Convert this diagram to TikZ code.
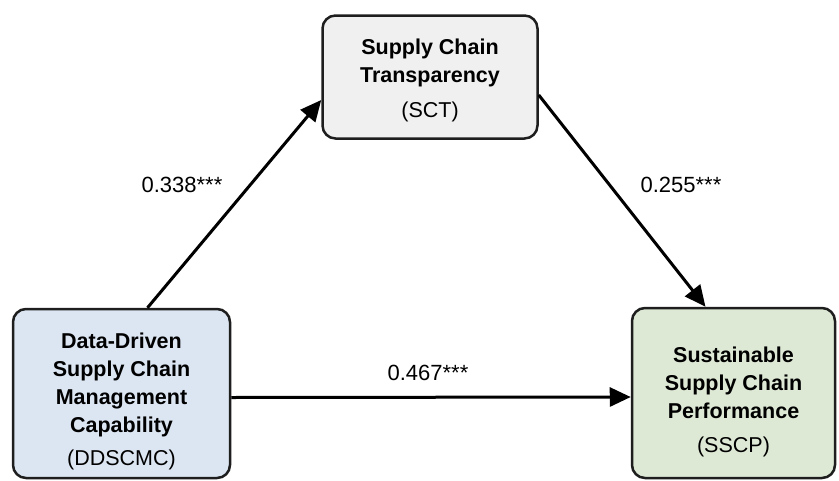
\documentclass[tikz,border=0pt]{standalone}
\usepackage{fontspec}
\setsansfont{Liberation Sans}
\usetikzlibrary{arrows.meta}
\definecolor{sctgray}{HTML}{F0F0F0}
\definecolor{ddblue}{HTML}{DCE6F3}
\definecolor{sscpgreen}{HTML}{DDE9D5}
\definecolor{edgeblack}{HTML}{1E1E1E}
\begin{document}
\begin{tikzpicture}[x=1pt,y=-1pt,
    construct/.style={draw=edgeblack,line width=2.5pt,rounded corners=13pt,align=center,
      font=\sffamily\fontsize{21.5}{28}\selectfont,text=black,inner sep=0},
    path/.style={draw=black,line width=3pt,-{Triangle[length=21pt,width=19pt]}},
    coef/.style={font=\sffamily\fontsize{22}{26}\selectfont,inner sep=0}]
  \useasboundingbox (0,0) rectangle (839,480);
  % constructs
  \node[construct,fill=sctgray,minimum width=215pt,minimum height=123pt] (sct) at (430,77)
    {\rule{0pt}{22pt}\textbf{Supply Chain}\\\textbf{Transparency}\\[7pt](SCT)};
  \node[construct,fill=ddblue,minimum width=217pt,minimum height=169pt] (dd) at (121.5,393.5)
    {\rule{0pt}{31pt}\textbf{Data-Driven}\\\textbf{Supply Chain}\\\textbf{Management}\\\textbf{Capability}\\[5pt](DDSCMC)};
  \node[construct,fill=sscpgreen,minimum width=203pt,minimum height=170pt] (sscp) at (733.5,393)
    {\rule{0pt}{33pt}\textbf{Sustainable}\\\textbf{Supply Chain}\\\textbf{Performance}\\[6pt](SSCP)};
  % paths
  \draw[path] ([xshift=26pt]dd.north) -- ([yshift=-23pt]sct.west);
  \draw[path] ([yshift=-18pt]sct.east) -- ([xshift=-28pt]sscp.north);
  \draw[path] ([yshift=-4pt]dd.east) -- ([yshift=-4pt]sscp.west);
  % coefficients
  \node[coef] (a) at (182,185) {0.338***};
  \node[coef] (b) at (681,185) {0.255***};
  \node[coef] (c) at (428,373) {0.467***};
\end{tikzpicture}
\end{document}
